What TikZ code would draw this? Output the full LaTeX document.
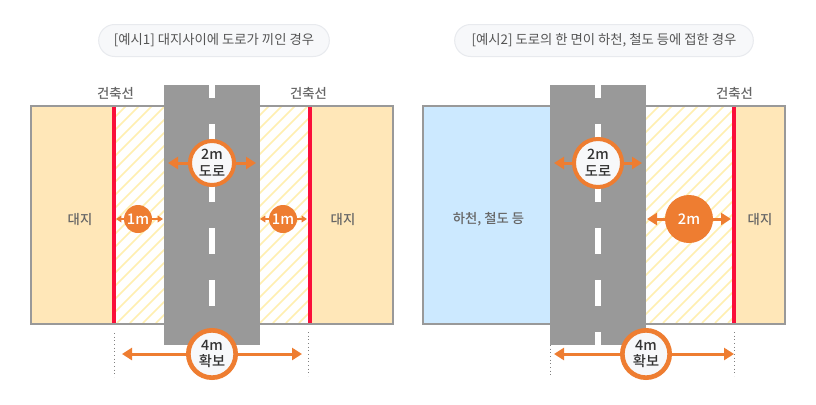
\documentclass[tikz,border=0pt]{standalone}
\usepackage{fontspec}
\setmainfont{Noto Sans CJK KR}
\newfontfamily\medf{Noto Sans CJK KR Medium}
\usetikzlibrary{arrows.meta}
\definecolor{land}{HTML}{FFE7B8}
\definecolor{river}{HTML}{CCE9FF}
\definecolor{roadc}{HTML}{999999}
\definecolor{redl}{HTML}{FA0F3A}
\definecolor{org}{HTML}{EE7D31}
\definecolor{pillf}{HTML}{F7F8FA}
\definecolor{pilld}{HTML}{E8EAEE}
\definecolor{hatchc}{HTML}{FFEFB0}
\definecolor{txt}{HTML}{555555}
\definecolor{lbltxt}{HTML}{666666}
\definecolor{dark}{HTML}{333333}
\tikzset{
 x=0.75pt,y=-0.75pt,
 pill/.style={draw=pilld,line width=0.75pt,fill=pillf,rounded corners=12pt,minimum height=24pt,inner sep=0pt,text=txt,font=\fontsize{10pt}{12pt}\selectfont},
 lbl/.style={text=lbltxt,inner sep=0pt,font=\medf\fontsize{10pt}{12pt}\selectfont},
 ring/.style={circle,draw=org,fill=pillf,inner sep=0pt,text=dark,align=center,font=\medf\fontsize{10.7pt}{13.5pt}\selectfont},
 disc/.style={circle,fill=org,inner sep=0pt,text=white,font=\medf\fontsize{11pt}{12pt}\selectfont},
 conn/.style={draw=org,line width=2.25pt,-{Triangle[length=7.5pt,width=9pt]}},
 small/.style={draw=org,line width=0.9pt,-{Triangle[length=4pt,width=5pt]}},
 guide/.style={draw=gray,line width=0.75pt,dotted,line cap=butt},
}
\newcommand{\hatchzone}[4]{%
 \begin{scope}
 \clip (#1,#2) rectangle (#3,#4);
 \foreach \k in {-30,...,70}{
  \draw[hatchc,line width=1.1pt] ({\k*13},#4) -- ({\k*13+220},{#4-220});
 }
 \end{scope}}
\newcommand{\roadstrip}[1]{%
 \fill[roadc] ({#1-48},85) rectangle ({#1+48},345);
 \foreach \y in {85,124,176,228,280}{
  \pgfmathsetmacro{\yb}{\y==85?98:\y+26}
  \fill[white] ({#1-3},\y) rectangle ({#1+3},\yb);
 }}
\newcommand{\dn}[1]{\raisebox{-0.6pt}{#1}}
\begin{document}
\begin{tikzpicture}
\useasboundingbox (0,0) rectangle (816,404);
\fill[white] (0,0) rectangle (816,404);
% pills
\node[pill,minimum width=173pt] (p1) at (214,40.5) {\dn{[예시1] 대지사이에 도로가 끼인 경우}};
\node[pill,minimum width=224pt] (p2) at (604,40.5) {\dn{[예시2] 도로의 한 면이 하천, 철도 등에 접한 경우}};
% left scene
\fill[land] (30,105) rectangle (394,325);
\fill[white] (116,107) rectangle (308,323);
\hatchzone{116}{107}{164}{323}
\hatchzone{260}{107}{308}{323}
\draw[roadc,line width=1.5pt] (31,106) rectangle (393,324);
\fill[redl] (112,107) rectangle (116,323);
\fill[redl] (308,107) rectangle (312,323);
\roadstrip{212}
% right scene
\fill[river] (422,105) rectangle (550,325);
\fill[land] (736,105) rectangle (786,325);
\fill[white] (646,107) rectangle (732,323);
\hatchzone{646}{107}{732}{323}
\draw[roadc,line width=1.5pt] (423,106) rectangle (785,324);
\fill[redl] (732,107) rectangle (736,323);
\roadstrip{598}
\fill[white] (595,332) rectangle (601,345);
% labels
\node[lbl] (b1) at (115.5,93) {건축선};
\node[lbl] (b2) at (308.5,93) {건축선};
\node[lbl] (b3) at (734.5,93) {건축선};
\node[lbl] (d1) at (80,219.5) {대지};
\node[lbl] (d2) at (343,219.5) {대지};
\node[lbl] (d3) at (760,219.5) {대지};
\node[lbl] (h1) at (488.5,219.5) {하천, 철도 등};
% guides
\coordinate (g1a) at (114.5,333); \coordinate (g1b) at (114.5,377);
\coordinate (g2a) at (308.5,332); \coordinate (g2b) at (308.5,376);
\coordinate (g3a) at (550.5,345); \coordinate (g3b) at (550.5,377);
\coordinate (g4a) at (734.5,332); \coordinate (g4b) at (734.5,376);
\draw[guide] (g1a)--(g1b); \draw[guide] (g2a)--(g2b); \draw[guide] (g3a)--(g3b); \draw[guide] (g4a)--(g4b);
% circles
\node[ring,line width=3pt,minimum size=33pt] (r1) at (212,163) {\dn{2m}\\[-1pt]\dn{도로}};
\node[ring,line width=3pt,minimum size=36pt] (r2) at (598,163) {\dn{2m}\\[-1pt]\dn{도로}};
\node[ring,line width=3.5pt,minimum size=35.5pt] (r3) at (212,354) {4m\\[-1pt]확보};
\node[ring,line width=3.5pt,minimum size=35.5pt] (r4) at (646,354) {4m\\[-1pt]확보};
\node[disc,minimum size=21pt] (m1) at (138,219) {1m};
\node[disc,minimum size=21pt] (m2) at (283,219) {1m};
\node[disc,minimum size=36pt] (m3) at (689,219) {2m};
% connector ends
\coordinate (e1) at (168,163); \coordinate (e2) at (256,163);
\coordinate (e3) at (554,163); \coordinate (e4) at (642,163);
\coordinate (e5) at (122,354); \coordinate (e6) at (302,354);
\coordinate (e7) at (554,354); \coordinate (e8) at (734,354);
\coordinate (e9) at (116,219); \coordinate (e10) at (163,219);
\coordinate (e11) at (260,219); \coordinate (e12) at (307,219);
\coordinate (e13) at (647,219); \coordinate (e14) at (731,219);
\draw[conn] (r1)--(e1); \draw[conn] (r1)--(e2);
\draw[conn] (r2)--(e3); \draw[conn] (r2)--(e4);
\draw[conn] (r3)--(e5); \draw[conn] (r3)--(e6);
\draw[conn] (r4)--(e7); \draw[conn] (r4)--(e8);
\draw[small] (m1)--(e9); \draw[small] (m1)--(e10);
\draw[small] (m2)--(e11); \draw[small] (m2)--(e12);
\draw[conn] (m3)--(e13); \draw[conn] (m3)--(e14);
\end{tikzpicture}
\end{document}
